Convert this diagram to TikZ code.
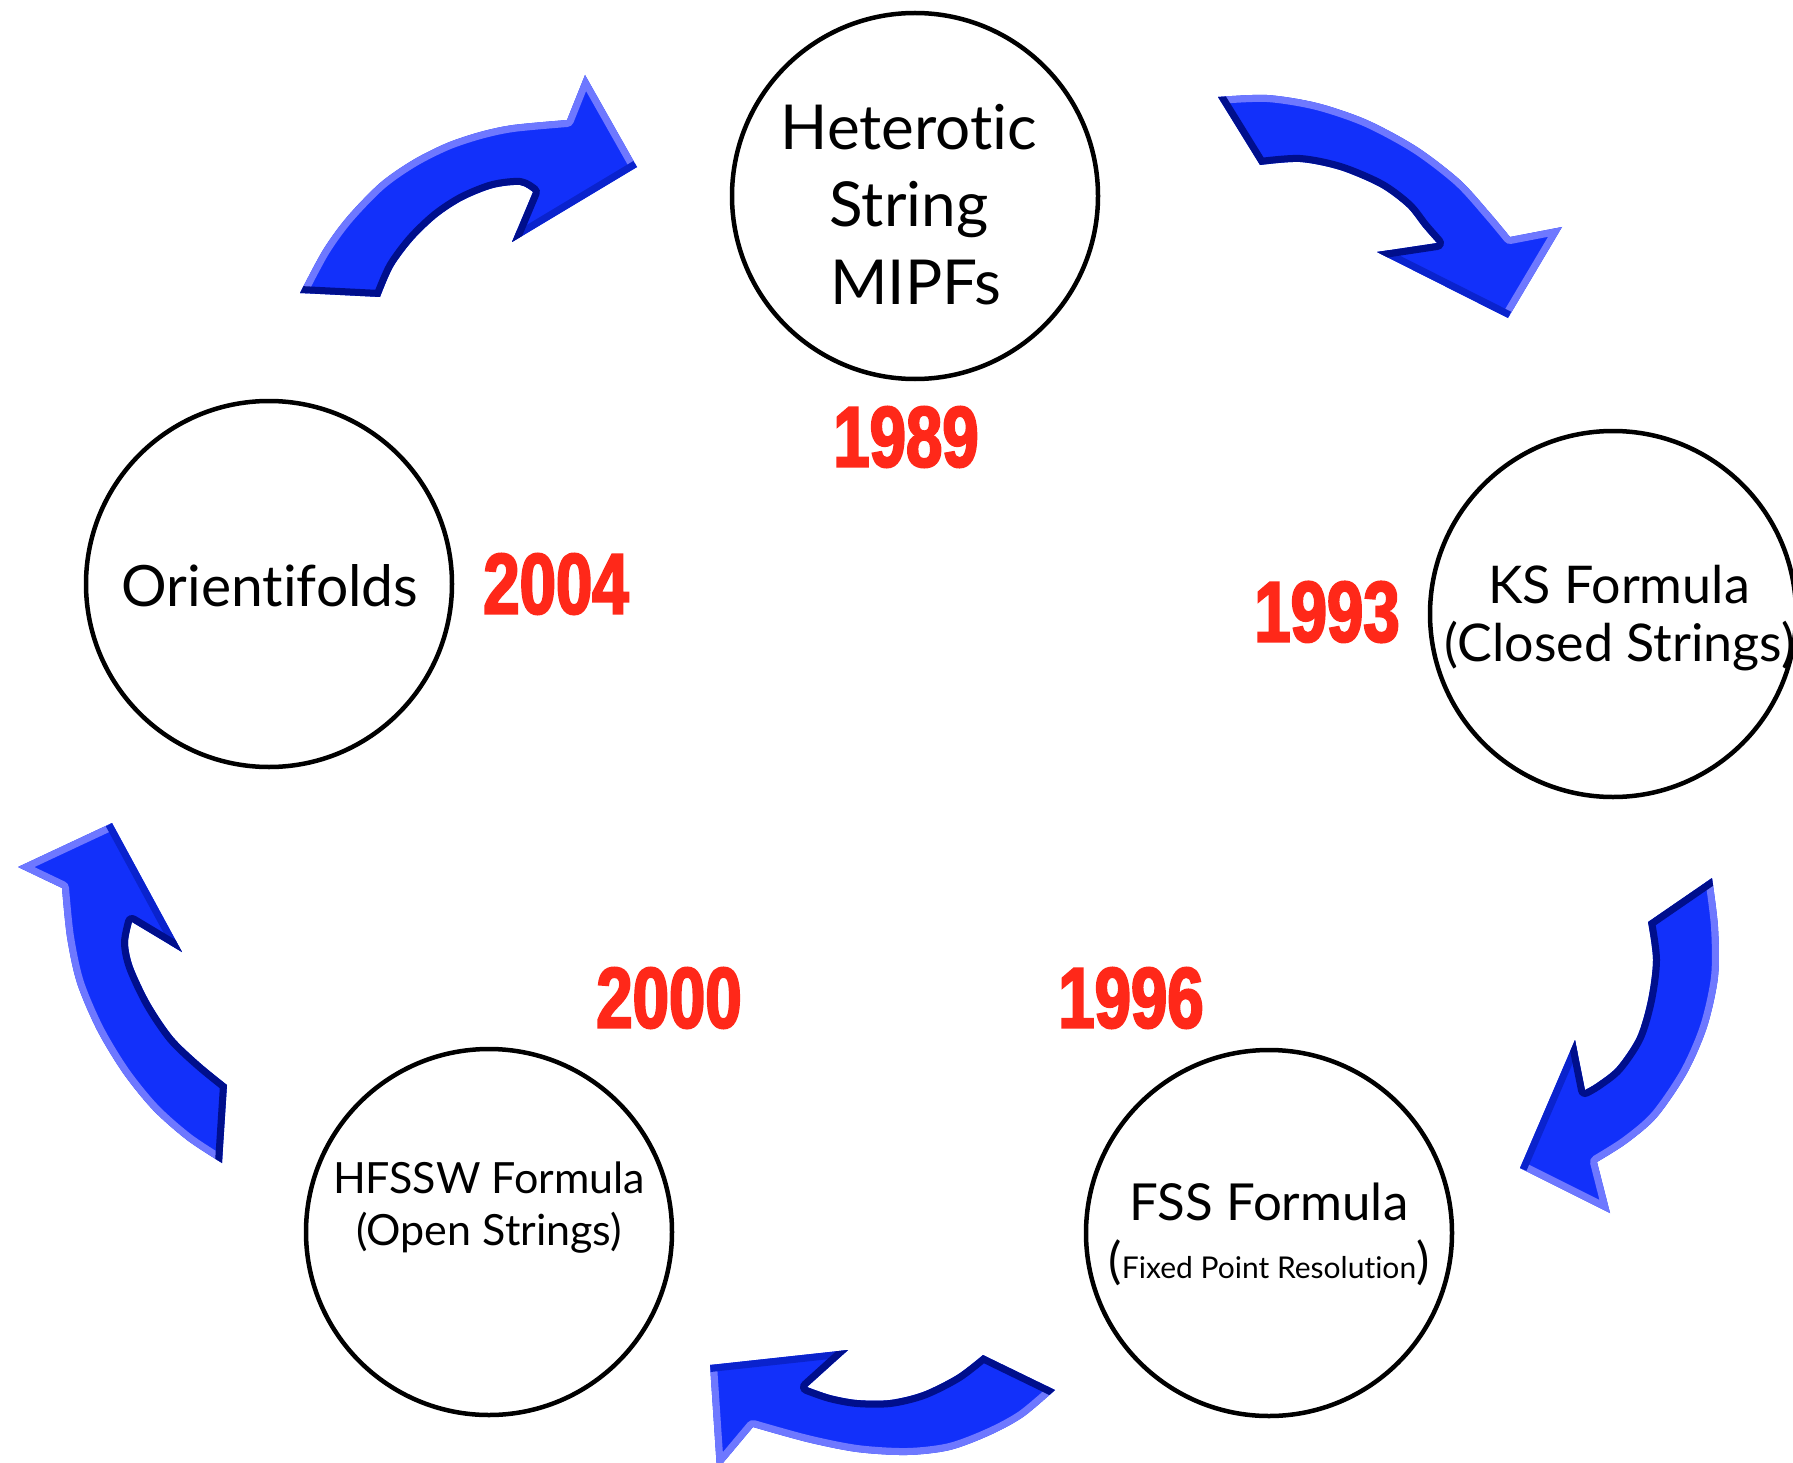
\documentclass[tikz,border=0pt]{standalone}
\usepackage{fontspec}
\setmainfont{Lato}[Ligatures={NoCommon}]
\newfontfamily\yearfont[FakeStretch=0.76, BoldFeatures={FakeBold=2.5}]{Liberation Sans}
\definecolor{yearred}{RGB}{255,40,25}
\definecolor{arrblue}{RGB}{18,48,250}
\definecolor{arrlightc}{RGB}{110,120,255}
\definecolor{arrmidc}{RGB}{10,35,205}
\definecolor{arrdarkc}{RGB}{0,15,140}
\tikzset{
  circ/.style={circle, draw=black, line width=4.5pt, minimum size=366pt, inner sep=0pt},
  lbl/.style={anchor=base, inner sep=0pt, text=black},
  yearlbl/.style={anchor=center, inner sep=0pt, text=yearred, font=\yearfont\bfseries\fontsize{86}{90}\selectfont},
  arrlight/.style={draw=arrlightc, line width=14pt, line join=round},
  arrmid/.style={draw=arrmidc, line width=14pt, line join=round},
  arrdark/.style={draw=arrdarkc, line width=14pt, line join=round},
}
% #1 tail outer, #2 outer arc points, #3 shoulder, #4 outer tip, #5 point,
% #6 barb, #7 notch, #8 inner arc points, #9 tail inner
\newcommand\blockarrow[9]{%
  \fill[arrblue] #1 -- plot[smooth] coordinates {#1 #2 #3} -- #4 -- #5 -- #6 -- #7
     -- plot[smooth] coordinates {#7 #8 #9} -- cycle;
  \begin{scope}
    \clip #1 -- plot[smooth] coordinates {#1 #2 #3} -- #4 -- #5 -- #6 -- #7
     -- plot[smooth] coordinates {#7 #8 #9} -- cycle;
    \draw[arrlight] plot[smooth] coordinates {#1 #2 #3} -- #4 -- #5;
    \draw[arrmid] #5 -- #6;
    \draw[arrdark] #6 -- #7 -- plot[smooth] coordinates {#7 #8 #9} -- #1;
  \end{scope}
}
\begin{document}
\begin{tikzpicture}[x=1pt, y=-1pt]
\useasboundingbox[fill=white] (0,0) rectangle (1793,1463);

% arrows
\blockarrow{(300,293)}{(323,250) (347,217) (380,183) (413,160) (447,143) (480,132) (513,125)}{(567,120)}{(585,75)}{(637,167)}{(512,242)}{(533,192)}{(520,185) (493,188) (463,200) (437,217) (413,240) (393,267)}{(380,297)}
\blockarrow{(1218,97)}{(1267,95) (1317,103) (1367,120) (1417,147) (1460,180) (1490,213)}{(1510,237)}{(1562,227)}{(1508,318)}{(1377,252)}{(1437,243)}{(1423,227) (1407,207) (1380,187) (1340,170) (1300,162)}{(1260,165)}
\blockarrow{(1712,878)}{(1718,927) (1718,977) (1707,1027) (1687,1073) (1657,1117) (1627,1143)}{(1597,1162)}{(1610,1213)}{(1520,1168)}{(1575,1040)}{(1585,1090)}{(1597,1083) (1617,1067) (1637,1037) (1648,1000) (1653,960)}{(1648,922)}
\blockarrow{(1055,1390)}{(1023,1417) (990,1435) (950,1450) (907,1455) (857,1452) (807,1442)}{(753,1427)}{(717,1470)}{(710,1365)}{(848,1350)}{(807,1387)}{(830,1395) (857,1400) (890,1400) (923,1392) (957,1375)}{(983,1355)}
\blockarrow{(222,1163)}{(187,1140) (153,1110) (123,1073) (97,1030) (77,983) (67,937)}{(62,888)}{(18,867)}{(112,823)}{(182,952)}{(132,922)}{(128,943) (133,967) (150,1003) (173,1037) (200,1063)}{(227,1085)}

% top: Heterotic String MIPFs
\node[circ] (hs) at (915,196) {};
\node[lbl, font=\fontsize{62}{70}\selectfont] (hs1) at (909,150) {Heterotic};
\node[lbl, font=\fontsize{62}{70}\selectfont] (hs2) at (909,227) {String};
\node[lbl, font=\fontsize{62}{70}\selectfont] (hs3) at (916,305) {MIPFs};
\node[yearlbl] (y1989) at (906,437) {1989};

% Orientifolds
\node[circ] (ori) at (269,584) {};
\node[lbl, font=\fontsize{57}{64}\selectfont] (ori1) at (270,606) {Orientifolds};
\node[yearlbl] (y2004) at (556,584) {2004};

% KS
\node[circ] (ks) at (1613,614) {};
\node[lbl, font=\fontsize{52}{58}\selectfont] (ks1) at (1619,603) {KS Formula};
\node[lbl, font=\fontsize{52}{58}\selectfont] (ks2) at (1620,661) {(Closed Strings)};
\node[yearlbl] (y1993) at (1327,612) {1993};

% FSS
\node[circ] (fss) at (1269,1233) {};
\node[lbl, font=\fontsize{51}{58}\selectfont] (fss1) at (1269,1220) {FSS Formula};
\node[lbl, font=\fontsize{30}{34}\selectfont] (fss2) at (1269,1278) {{\fontsize{50}{50}\selectfont(}Fixed Point Resolution{\fontsize{50}{50}\selectfont)}};
\node[yearlbl] (y1996) at (1131,998) {1996};

% HFSSW
\node[circ] (hf) at (489,1232) {};
\node[lbl, font=\fontsize{43}{48}\selectfont] (hf1) at (489,1193) {HFSSW Formula};
\node[lbl, font=\fontsize{43}{48}\selectfont] (hf2) at (489,1245) {(Open Strings)};
\node[yearlbl] (y2000) at (669,998) {2000};
\end{tikzpicture}
\end{document}
